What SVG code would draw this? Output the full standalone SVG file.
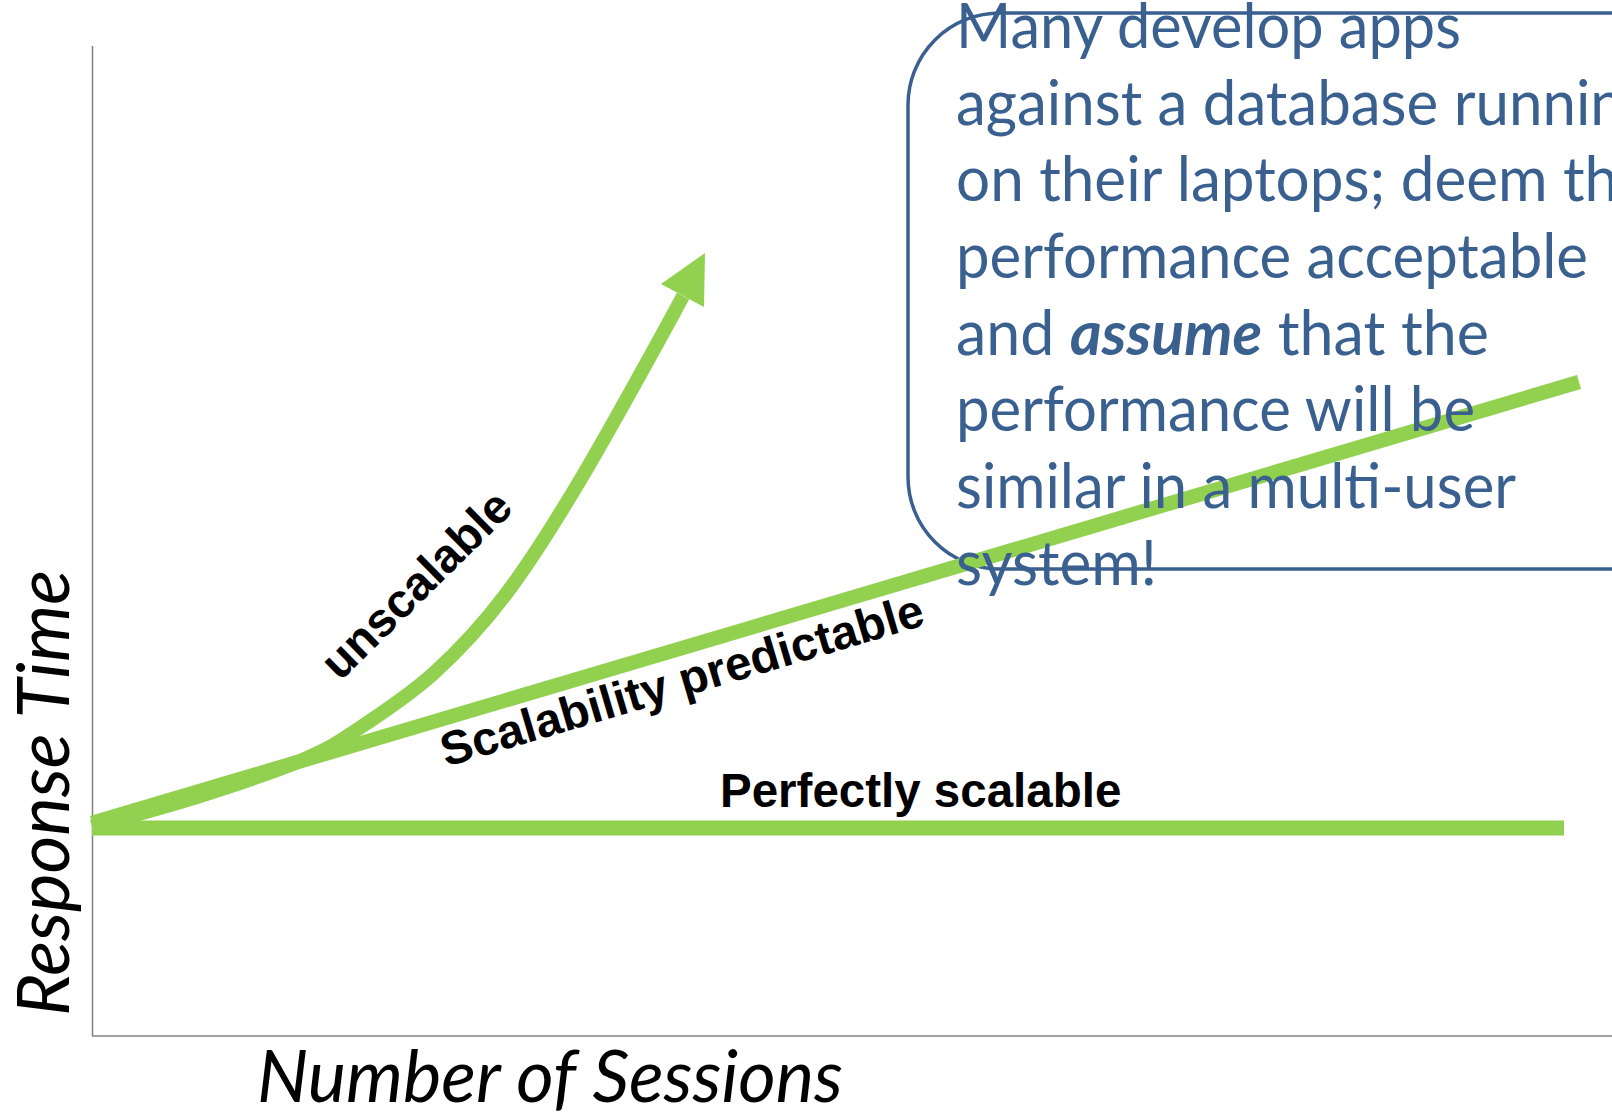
<svg xmlns="http://www.w3.org/2000/svg" width="1612" height="1117" viewBox="0 0 1612 1117">
<style>
.axis{stroke:#808080;stroke-width:1.5;fill:none}
.g{stroke:#92D050;fill:none;stroke-linecap:butt;stroke-linejoin:round}
.lbl{font-family:"Liberation Sans",Arial,sans-serif;font-weight:bold;font-size:47.5px;fill:#000}
.ax{font-family:Lato,"Open Sans",sans-serif;font-style:italic;font-size:72px;fill:#000}
.note{font-family:Lato,"Open Sans",sans-serif;font-size:62px;fill:#3A6090}
.box{fill:none;stroke:#3A6090;stroke-width:3.5}
</style>
<rect width="1612" height="1117" fill="#fff"/>
<g id="axes">
<line class="axis" x1="92.5" y1="46" x2="92.5" y2="1036"/>
<line class="axis" x1="92" y1="1036" x2="1612" y2="1036"/>
</g>
<g id="note-box">
<rect class="box" x="908" y="13" width="900" height="556" rx="92" ry="92"/>
</g>
<g id="connectors">
<line class="g" x1="92" y1="828" x2="1564" y2="828" stroke-width="15"/>
<line class="g" x1="92" y1="823" x2="1579" y2="382" stroke-width="14.5"/>
<path class="g" stroke-width="14" d="M92,827 C110,821.8 165.3,807 200,796 C234.7,785 274.2,771.8 300,761 C325.8,750.2 332.7,745.7 355,731 C377.3,716.3 408.8,695.8 434,673 C459.2,650.2 481.3,626.7 506,594 C530.7,561.3 552.5,526.7 582,477 C611.5,427.3 671,318.7 683,296"/>
<polygon points="705,253 661,284 704,307" fill="#92D050"/>
</g>
<g id="label-perfect"><text class="lbl" x="720" y="807">Perfectly scalable</text></g>
<g id="label-predictable"><text class="lbl" transform="translate(446,767) rotate(-16.5)">Scalability predictable</text></g>
<g id="label-unscalable"><text class="lbl" font-size="46.5" transform="translate(340,682) rotate(-44.5)">unscalable</text></g>
<g id="axis-labels">
<text class="ax" transform="translate(69,1016) rotate(-90)" textLength="446" lengthAdjust="spacingAndGlyphs">Response Time</text>
<text class="ax" x="257" y="1102" textLength="586" lengthAdjust="spacingAndGlyphs">Number of Sessions</text>
</g>
<g id="note-text">
<text class="note" x="956" y="48" textLength="505" lengthAdjust="spacingAndGlyphs">Many develop apps</text>
<text class="note" x="956" y="124.5" textLength="699" lengthAdjust="spacingAndGlyphs">against a database running</text>
<text class="note" x="956" y="201" textLength="694" lengthAdjust="spacingAndGlyphs">on their laptops; deem the</text>
<text class="note" x="956" y="278" textLength="632" lengthAdjust="spacingAndGlyphs">performance acceptable</text>
<text class="note" x="956" y="354.5" textLength="533" lengthAdjust="spacingAndGlyphs">and <tspan font-weight="bold" font-style="italic">assume</tspan> that the</text>
<text class="note" x="956" y="431" textLength="519" lengthAdjust="spacingAndGlyphs">performance will be</text>
<text class="note" x="956" y="508" textLength="560" lengthAdjust="spacingAndGlyphs">similar in a multi-user</text>
<text class="note" x="956" y="584.5" textLength="201" lengthAdjust="spacingAndGlyphs">system!</text>
</g>
</svg>
